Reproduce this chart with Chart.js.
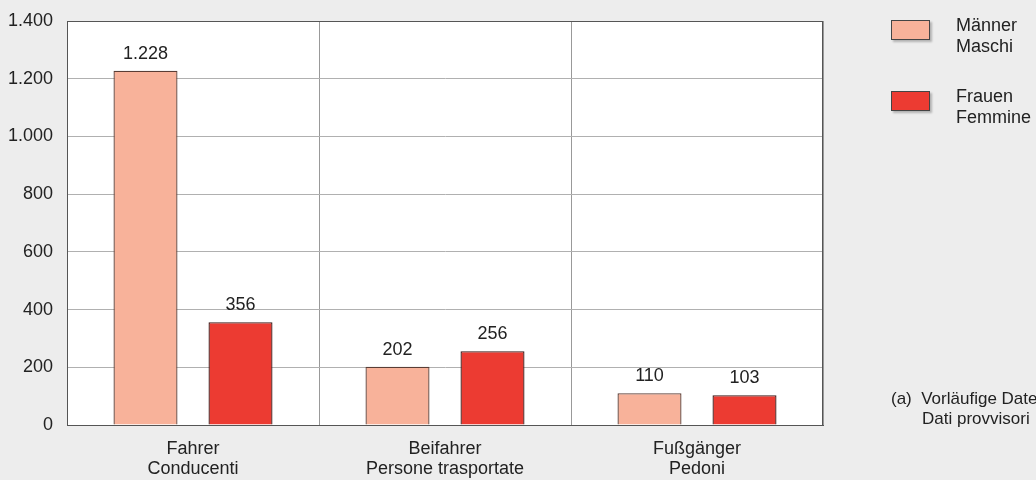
<!DOCTYPE html>
<html>
<head>
<meta charset="utf-8">
<script src="https://cdn.jsdelivr.net/npm/chart.js@4"></script>
<style>
  html, body { margin: 0; padding: 0; background: #ededed; overflow: hidden; }
  body { width: 1036px; height: 480px; position: relative; font-family: "Liberation Sans", Arial, sans-serif; color: #222; }
  #wrap { position: absolute; left: 0; top: 0; width: 1036px; height: 480px; }
  .leg { position: absolute; left: 891px; font-size: 18px; line-height: 21px; }
  .leg .box { position: absolute; left: 0; top: 5px; width: 37px; height: 18px; border: 1px solid #444; box-shadow: 2px 2px 2px rgba(0,0,0,0.25); }
  .leg .txt { position: absolute; left: 65px; top: 0; white-space: nowrap; }
  #note { position: absolute; left: 891px; top: 389px; font-size: 17px; line-height: 20px; white-space: nowrap; }
</style>
</head>
<body>
<div id="wrap"><canvas id="myChart" width="1036" height="480"></canvas></div>
<div class="leg" style="top:15px"><div class="box" style="background:#f8b29a"></div><div class="txt">Männer<br>Maschi</div></div>
<div class="leg" style="top:86px"><div class="box" style="background:#ec3b32"></div><div class="txt">Frauen<br>Femmine</div></div>
<div id="note">(a)&nbsp; Vorläufige Daten<br><span style="padding-left:31px">Dati provvisori</span></div>
<script>
const categories = [["Fahrer", "Conducenti"], ["Beifahrer", "Persone trasportate"], ["Fußgänger", "Pedoni"]];
const maleValues = [1228, 202, 110];
const femaleValues = [356, 256, 103];
const yTicks = [0, 200, 400, 600, 800, 1000, 1200, 1400];

const fmt = v => String(v).replace(/\B(?=(\d{3})+(?!\d))/g, ".");
const font = { family: "'Liberation Sans', Arial, sans-serif", size: 18, lineHeight: 1.1 };

// white plot area + dark frame
const plotFrame = {
    id: "plotFrame",
    beforeDraw(chart) {
        const a = chart.chartArea, ctx = chart.ctx;
        ctx.save();
        ctx.fillStyle = "#fff";
        ctx.fillRect(a.left, a.top, a.right - a.left, a.bottom - a.top);
        ctx.restore();
    },
    afterDraw(chart) {
        const a = chart.chartArea, ctx = chart.ctx;
        ctx.save();
        ctx.strokeStyle = "#555";
        ctx.lineWidth = 1;
        ctx.strokeRect(a.left + 0.5, a.top + 0.5, a.right - a.left - 1, a.bottom - a.top);
        ctx.restore();
    }
};

// value labels above bars
const barValues = {
    id: "barValues",
    afterDatasetsDraw(chart) {
        const ctx = chart.ctx;
        ctx.save();
        ctx.font = "18px " + font.family;
        ctx.fillStyle = "#222";
        ctx.textAlign = "center";
        ctx.textBaseline = "alphabetic";
        chart.data.datasets.forEach((ds, i) => {
            chart.getDatasetMeta(i).data.forEach((bar, j) => {
                ctx.fillText(fmt(ds.data[j]), bar.x, bar.y - 12);
            });
        });
        ctx.restore();
    }
};

new Chart(document.getElementById("myChart"), {
    type: "bar",
    data: {
        labels: categories,
        datasets: [
            { label: "Männer", data: maleValues, backgroundColor: "#f8b29a", borderColor: "#5a3d35", borderWidth: 1.3, borderSkipped: "bottom" },
            { label: "Frauen", data: femaleValues, backgroundColor: "#ec3b32", borderColor: "#3a1a18", borderWidth: 1.3, borderSkipped: "bottom" }
        ]
    },
    options: {
        responsive: false,
        animation: false,
        categoryPercentage: 0.754,
        barPercentage: 0.674,
        layout: { padding: { top: 21, right: 213, left: 0, bottom: 0 } },
        plugins: { legend: { display: false }, tooltip: { enabled: false } },
        scales: {
            x: {
                grid: { offset: true, color: "#999", drawTicks: false },
                border: { color: "#555" },
                ticks: { color: "#222", font: font, padding: 14 },
                afterFit(s) { s.height = 55; s.paddingLeft = 0; s.paddingRight = 0; }
            },
            y: {
                min: 0,
                max: 1400,
                afterBuildTicks(s) { s.ticks = yTicks.map(v => ({ value: v })); },
                grid: { color: "#b0b0b0", drawTicks: false },
                border: { color: "#555" },
                ticks: { color: "#222", font: font, padding: 14, callback: v => fmt(v) },
                afterFit(s) { s.width = 67; s.paddingTop = 0; s.paddingBottom = 0; }
            }
        }
    },
    plugins: [plotFrame, barValues]
});
</script>
</body>
</html>
